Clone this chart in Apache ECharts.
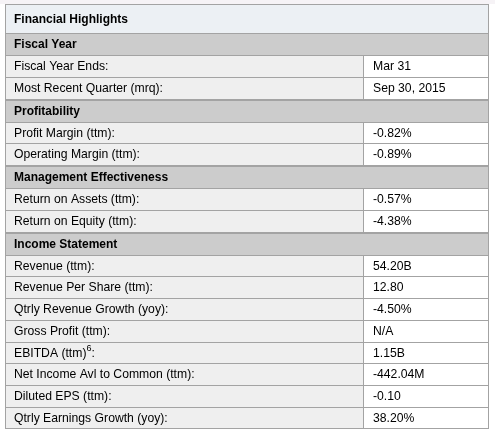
<!DOCTYPE html>
<html><head><meta charset="utf-8">
<script src="https://cdn.jsdelivr.net/npm/echarts@6/dist/echarts.min.js"></script>
<style>html,body{margin:0;padding:0;background:#fff}#c{width:495px;height:429px}</style>
</head><body><div id="c"></div>
<script>
const titleText = "Financial Highlights";
const sectionNames = ["Fiscal Year", "Profitability", "Management Effectiveness", "Income Statement"];
const fiscalYearLabels = ["Fiscal Year Ends:", "Most Recent Quarter (mrq):"];
const fiscalYearValues = ["Mar 31", "Sep 30, 2015"];
const profitabilityLabels = ["Profit Margin (ttm):", "Operating Margin (ttm):"];
const profitabilityValues = ["-0.82%", "-0.89%"];
const managementLabels = ["Return on Assets (ttm):", "Return on Equity (ttm):"];
const managementValues = ["-0.57%", "-4.38%"];
const incomeLabels = ["Revenue (ttm):", "Revenue Per Share (ttm):", "Qtrly Revenue Growth (yoy):", "Gross Profit (ttm):", "EBITDA (ttm)⁶:", "Net Income Avl to Common (ttm):", "Diluted EPS (ttm):", "Qtrly Earnings Growth (yoy):"];
const incomeValues = ["54.20B", "12.80", "-4.50%", "N/A", "1.15B", "-442.04M", "-0.10", "38.20%"];

const sections = [
  { name: sectionNames[0], labels: fiscalYearLabels, values: fiscalYearValues },
  { name: sectionNames[1], labels: profitabilityLabels, values: profitabilityValues },
  { name: sectionNames[2], labels: managementLabels, values: managementValues },
  { name: sectionNames[3], labels: incomeLabels, values: incomeValues }
];

// layout (units = pixels along the hidden axes)
const TABLE_W = 484, COL_X = 358;
const TITLE_H = 29, HEAD_H = 22, ROW_H = 21.75, THICK = 2;
const rows = [];
let yy = 0;
rows.push({ kind: 'title', text: titleText, y0: 0, y1: TITLE_H, line: 1 });
yy = TITLE_H;
sections.forEach((s, si) => {
  const h = HEAD_H + (si > 0 ? 1 : 0);
  rows.push({ kind: 'head', text: s.name, y0: yy, y1: yy + h, line: si > 0 ? THICK : 1 });
  yy += h;
  s.labels.forEach((l, k) => {
    rows.push({ kind: 'row', label: l, value: s.values[k], y0: yy, y1: yy + ROW_H, line: 1 });
    yy += ROW_H;
  });
});
const TOTAL_H = yy;

const FONT = '"Liberation Sans", Arial, sans-serif';
const BORDER = '#a3a3a3';

function toRich(t) { return t.replace(/⁶/g, '{sup|6}'); }

function renderItem(params, api) {
  const r = rows[params.dataIndex];
  const pA = api.coord([0, r.y0]);
  const pB = api.coord([TABLE_W, r.y1]);
  const pC = api.coord([COL_X, r.y0]);
  const x0 = Math.round(pA[0]), x1 = Math.round(pB[0]), xc = Math.round(pC[0]);
  const top = Math.round(pA[1]), bot = Math.round(pB[1]);
  const cy = (top + r.line + bot) / 2;
  const ch = [];
  if (r.kind === 'title' || r.kind === 'head') {
    ch.push({ type: 'rect', shape: { x: x0, y: top, width: x1 - x0, height: bot - top }, style: { fill: r.kind === 'title' ? '#ecf0f4' : '#cccccc' } });
    ch.push({ type: 'text', style: { x: x0 + 9, y: cy + 0.5, text: r.text, fill: '#000', font: 'bold 12px ' + FONT, verticalAlign: 'middle', align: 'left' } });
  } else {
    ch.push({ type: 'rect', shape: { x: x0, y: top, width: xc - x0, height: bot - top }, style: { fill: '#efefef' } });
    ch.push({ type: 'rect', shape: { x: xc, y: top, width: x1 - xc, height: bot - top }, style: { fill: '#ffffff' } });
    ch.push({ type: 'rect', shape: { x: xc, y: top, width: 1, height: bot - top }, style: { fill: BORDER } });
    ch.push({ type: 'text', style: { x: x0 + 9, y: cy + 0.5, text: toRich(r.label), fill: '#000', font: '12.2px ' + FONT, verticalAlign: 'middle', align: 'left',
      rich: { sup: { fontSize: 9, fontFamily: FONT, fill: '#000', padding: [0, 0, 9, 0] } } } });
    ch.push({ type: 'text', style: { x: xc + 10, y: cy + 0.5, text: r.value, fill: '#000', font: '12.2px ' + FONT, verticalAlign: 'middle', align: 'left' } });
  }
  // top line
  ch.push({ type: 'rect', shape: { x: x0, y: top, width: x1 - x0, height: r.line }, style: { fill: BORDER } });
  // side borders
  ch.push({ type: 'rect', shape: { x: x0, y: top, width: 1, height: bot - top }, style: { fill: BORDER } });
  ch.push({ type: 'rect', shape: { x: x1 - 1, y: top, width: 1, height: bot - top }, style: { fill: BORDER } });
  if (params.dataIndex === rows.length - 1) {
    ch.push({ type: 'rect', shape: { x: x0, y: bot - 1, width: x1 - x0, height: 1 }, style: { fill: BORDER } });
  }
  return { type: 'group', children: ch };
}

const chart = echarts.init(document.getElementById('c'), null, { renderer: 'canvas' });
chart.setOption({
  animation: false,
  backgroundColor: '#ffffff',
  grid: { left: 5, top: 4, width: TABLE_W, height: TOTAL_H, containLabel: false },
  xAxis: { type: 'value', min: 0, max: TABLE_W, show: false },
  yAxis: { type: 'value', min: 0, max: TOTAL_H, inverse: true, show: false },
  graphic: [{ type: 'rect', left: 0, top: 0, shape: { width: 495, height: 4 }, style: { fill: '#f6f3f6' }, silent: true }],
  series: [{
    type: 'custom',
    silent: true,
    clip: false,
    renderItem: renderItem,
    data: rows.map((r, i) => [i])
  }]
});
</script>
</body></html>
